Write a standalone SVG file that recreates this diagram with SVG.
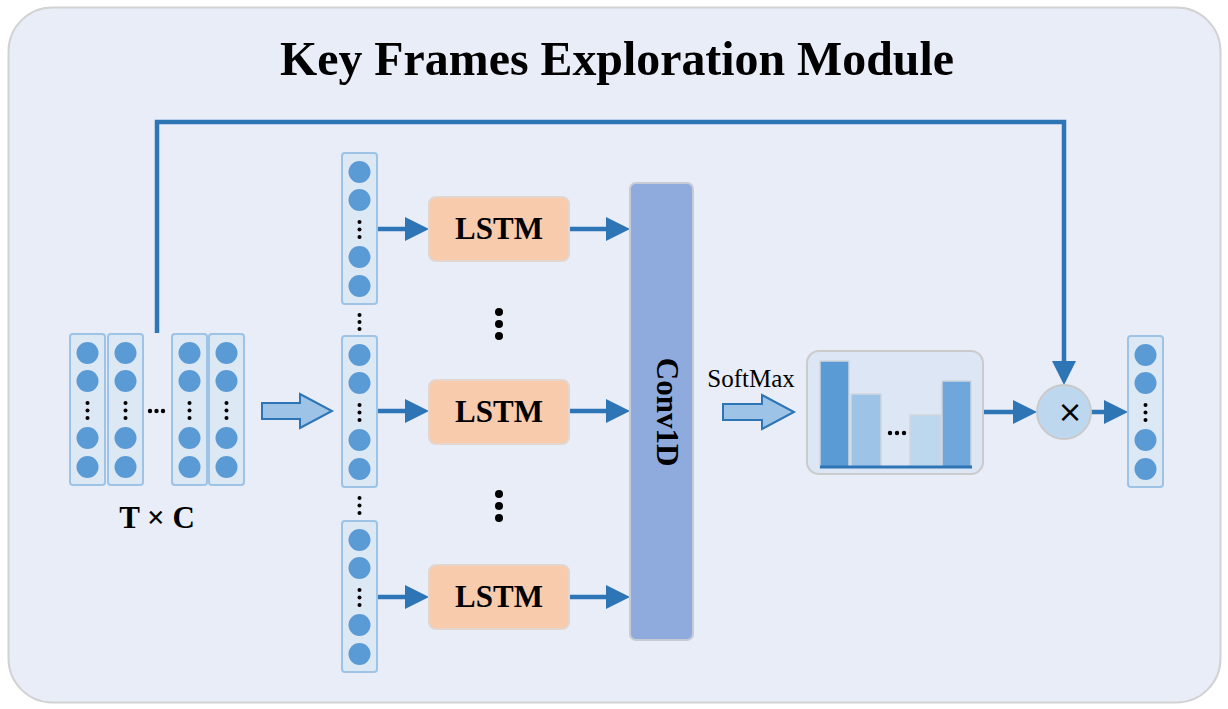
<svg xmlns="http://www.w3.org/2000/svg" xmlns:xlink="http://www.w3.org/1999/xlink" width="1228" height="709" viewBox="0 0 1228 709">
<style>
.col{fill:#dde8f5;stroke:#9dc3e6;stroke-width:2}
.dot{fill:#5b9bd5}
.sd{fill:#000}
.conn{fill:none;stroke:#2e75b6;stroke-width:4.5}
.lstm{fill:#f8cbad;stroke:#e2d6cf;stroke-width:2}
.lbl{font-family:"Liberation Serif","Times New Roman",serif;font-weight:bold;fill:#000}
.hollow{fill:#9dc3e6;stroke:#2e75b6;stroke-width:2}
.bar{stroke:#cfd6de;stroke-width:1.5}
</style>
<defs>
<marker id="ah" markerUnits="userSpaceOnUse" markerWidth="26" markerHeight="26" refX="16" refY="12" orient="auto">
<path d="M0,0 L24,12 L0,24 z" fill="#2e75b6"/>
</marker>
<g id="column">
<rect class="col" x="0" y="0" width="35" height="151" rx="3"/>
<circle class="dot" cx="17.5" cy="19" r="11"/>
<circle class="dot" cx="17.5" cy="47" r="11"/>
<circle class="sd" cx="17.5" cy="69" r="2"/>
<circle class="sd" cx="17.5" cy="76.5" r="2"/>
<circle class="sd" cx="17.5" cy="84" r="2"/>
<circle class="dot" cx="17.5" cy="104" r="11"/>
<circle class="dot" cx="17.5" cy="133" r="11"/>
</g>
</defs>
<rect id="frame" x="8.5" y="7.5" width="1212" height="695" rx="44" fill="#e9edf8" stroke="#d2d2d2" stroke-width="2"/>
<text class="lbl" x="617" y="75" font-size="49" text-anchor="middle" textLength="674" lengthAdjust="spacingAndGlyphs">Key Frames Exploration Module</text>

<g id="connectors">
<path class="conn" d="M157,333 V122 H1064 V377" marker-end="url(#ah)"/>
<line class="conn" x1="375" y1="229" x2="421" y2="229" marker-end="url(#ah)"/>
<line class="conn" x1="375" y1="411" x2="421" y2="411" marker-end="url(#ah)"/>
<line class="conn" x1="375" y1="597" x2="421" y2="597" marker-end="url(#ah)"/>
<line class="conn" x1="569" y1="229" x2="622" y2="229" marker-end="url(#ah)"/>
<line class="conn" x1="569" y1="411" x2="622" y2="411" marker-end="url(#ah)"/>
<line class="conn" x1="569" y1="597" x2="622" y2="597" marker-end="url(#ah)"/>
<line class="conn" x1="983" y1="412" x2="1029" y2="412" marker-end="url(#ah)"/>
<line class="conn" x1="1091" y1="412" x2="1120" y2="412" marker-end="url(#ah)"/>
<polygon class="hollow" points="262,403 300,403 300,394 332,411 300,428 300,419 262,419"/>
<polygon class="hollow" points="723,404 762,404 762,395 794,412 762,429 762,420 723,420"/>
</g>

<g id="input">
<use xlink:href="#column" x="70" y="334"/>
<use xlink:href="#column" x="108" y="334"/>
<use xlink:href="#column" x="172" y="334"/>
<use xlink:href="#column" x="209" y="334"/>
<circle class="sd" cx="150" cy="411" r="2.2"/>
<circle class="sd" cx="156.5" cy="411" r="2.2"/>
<circle class="sd" cx="163" cy="411" r="2.2"/>
<text class="lbl" x="157" y="528" font-size="31" text-anchor="middle">T × C</text>
</g>

<g id="split1"><use xlink:href="#column" x="342" y="153"/></g>
<g id="split2"><use xlink:href="#column" x="342" y="336"/></g>
<g id="split3"><use xlink:href="#column" x="342" y="521"/></g>
<g id="split-dots">
<circle class="sd" cx="359.5" cy="315" r="2"/>
<circle class="sd" cx="359.5" cy="322" r="2"/>
<circle class="sd" cx="359.5" cy="329" r="2"/>
<circle class="sd" cx="359.5" cy="498" r="2"/>
<circle class="sd" cx="359.5" cy="505.5" r="2"/>
<circle class="sd" cx="359.5" cy="513" r="2"/>
<circle class="sd" cx="499" cy="312" r="4"/>
<circle class="sd" cx="499" cy="324" r="4"/>
<circle class="sd" cx="499" cy="336" r="4"/>
<circle class="sd" cx="499" cy="494" r="4"/>
<circle class="sd" cx="499" cy="506" r="4"/>
<circle class="sd" cx="499" cy="518" r="4"/>
</g>

<g id="lstm1"><rect class="lstm" x="429" y="197" width="140" height="64" rx="7"/><text class="lbl" x="499" y="239" font-size="31" text-anchor="middle">LSTM</text></g>
<g id="lstm2"><rect class="lstm" x="429" y="380" width="140" height="64" rx="7"/><text class="lbl" x="499" y="422" font-size="31" text-anchor="middle">LSTM</text></g>
<g id="lstm3"><rect class="lstm" x="429" y="565" width="140" height="64" rx="7"/><text class="lbl" x="499" y="607" font-size="31" text-anchor="middle">LSTM</text></g>

<g id="conv1d">
<rect x="630" y="183" width="63" height="457" rx="6" fill="#8faadc" stroke="#c6cbd6" stroke-width="2"/>
<text class="lbl" transform="translate(657,412) rotate(90)" font-size="31" text-anchor="middle">Conv1D</text>
</g>

<g id="softmax">
<text x="751" y="387" font-family="Liberation Serif,Times New Roman,serif" font-size="25" text-anchor="middle" fill="#000">SoftMax</text>
</g>

<g id="chart">
<rect x="807" y="351" width="176" height="123" rx="12" fill="#dce6f4" stroke="#cbcbcb" stroke-width="2"/>
<rect class="bar" x="820" y="361" width="29" height="106" fill="#5b9bd5"/>
<rect class="bar" x="851" y="394" width="30" height="73" fill="#9dc3e6"/>
<rect class="bar" x="910" y="415" width="31" height="52" fill="#bdd7ee"/>
<rect class="bar" x="942" y="381" width="29" height="86" fill="#6fa6db"/>
<line x1="820" y1="467" x2="972" y2="467" stroke="#2e75b6" stroke-width="3"/>
<circle class="sd" cx="890" cy="433" r="2.2"/>
<circle class="sd" cx="897" cy="433" r="2.2"/>
<circle class="sd" cx="904" cy="433" r="2.2"/>
</g>

<g id="multiply">
<circle cx="1064" cy="412" r="27" fill="#bdd7ee" stroke="#cacaca" stroke-width="2"/>
<text x="1070" y="422" font-family="DejaVu Sans,sans-serif" font-size="30" text-anchor="middle" fill="#000">×</text>
</g>

<g id="output"><use xlink:href="#column" x="1128" y="336"/></g>
</svg>
